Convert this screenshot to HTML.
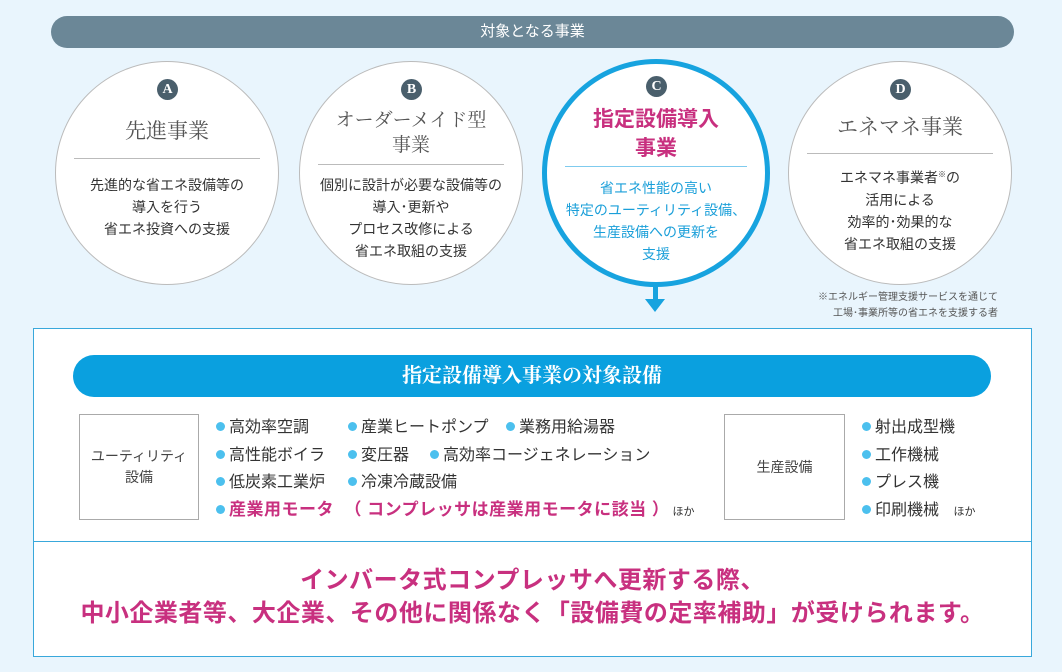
<!DOCTYPE html>
<html><head><meta charset="utf-8"><style>
*{margin:0;padding:0;box-sizing:border-box}
body{width:1062px;height:672px;background:#e9f5fd;position:relative;overflow:hidden;font-family:"Liberation Sans","Noto Sans CJK JP",sans-serif;color:#333}
.a{position:absolute}
.bar{left:51px;top:16px;width:963px;height:32px;border-radius:16px;background:#6b8797;color:#fff;font-size:15px;text-align:center;line-height:32px}
.c{width:224px;height:224px;border-radius:50%;background:#fff;border:1px solid #bbb;text-align:center}
.badge{position:absolute;left:50%;top:17px;margin-left:-10px;width:21px;height:21px;border-radius:50%;background:#4a5f6c;color:#fff;font-family:"Liberation Serif",serif;font-weight:bold;font-size:14px;line-height:21px}
.tt{position:absolute;left:0;right:0;font-family:"Liberation Serif","Noto Serif CJK SC",serif;font-size:21px;color:#555;line-height:27px}
.hr{position:absolute;left:18px;right:18px;height:1px;background:#bbb}
.bd{position:absolute;left:0;right:0;font-size:14px;line-height:22px;color:#333}
.dot{display:inline-block;width:9px;height:9px;border-radius:50%;background:#4cc0ee;margin-right:4px;vertical-align:1px}
.ln{position:absolute;font-size:16px;white-space:nowrap}
</style></head><body>
<div class="a bar">対象となる事業</div>

<div class="a c" style="left:55px;top:61px">
<div class="badge">A</div>
<div class="tt" style="top:56px">先進事業</div>
<div class="hr" style="top:96px"></div>
<div class="bd" style="top:112px">先進的な省エネ設備等の<br>導入を行う<br>省エネ投資への支援</div>
</div>

<div class="a c" style="left:299px;top:61px">
<div class="badge">B</div>
<div class="tt" style="top:46px;font-size:19px;line-height:25px">オーダーメイド型<br>事業</div>
<div class="hr" style="top:102px"></div>
<div class="bd" style="top:112px">個別に設計が必要な設備等の<br>導入･更新や<br>プロセス改修による<br>省エネ取組の支援</div>
</div>

<div class="a c" style="left:542px;top:59px;width:228px;height:228px;border:5px solid #17a3df">
<div class="badge" style="top:12px">C</div>
<div class="tt" style="top:41px;font-family:'Liberation Sans','Noto Sans CJK JP',sans-serif;font-weight:bold;color:#c8307f;font-size:21px;line-height:29px">指定設備導入<br>事業</div>
<div class="hr" style="top:102px;background:#7fcbee"></div>
<div class="bd" style="top:113px;color:#1a9fd9;line-height:22px">省エネ性能の高い<br>特定のユーティリティ設備、<br>生産設備への更新を<br>支援</div>
</div>
<div class="a" style="left:653px;top:286px;width:5px;height:14px;background:#17a3df"></div>
<div class="a" style="left:645px;top:299px;width:0;height:0;border-left:10px solid transparent;border-right:10px solid transparent;border-top:13px solid #17a3df"></div>

<div class="a c" style="left:788px;top:61px">
<div class="badge">D</div>
<div class="tt" style="top:52px">エネマネ事業</div>
<div class="hr" style="top:91px"></div>
<div class="bd" style="top:102px">エネマネ事業者<sup style="font-size:8px">※</sup>の<br>活用による<br>効率的･効果的な<br>省エネ取組の支援</div>
</div>
<div class="a" style="left:790px;top:290px;width:208px;font-size:10px;line-height:16px;text-align:right;color:#555">※エネルギー管理支援サービスを通じて<br>工場･事業所等の省エネを支援する者</div>

<div class="a" style="left:33px;top:328px;width:999px;height:329px;background:#fff;border:1px solid #39a8db"></div>
<div class="a" style="left:34px;top:541px;width:997px;height:1px;background:#39a8db"></div>
<div class="a" style="left:73px;top:355px;width:918px;height:42px;border-radius:21px;background:#0aa0df;color:#fff;text-align:center;line-height:42px;font-family:'Liberation Serif','Noto Serif CJK SC',serif;font-size:20px;font-weight:bold">指定設備導入事業の対象設備</div>

<div class="a" style="left:79px;top:414px;width:120px;height:106px;border:1px solid #aaa;font-size:14px;text-align:center;line-height:21px;padding-top:31px;color:#444">ユーティリティ<br>設備</div>
<div class="ln" style="left:216px;top:413px"><span class="dot"></span>高効率空調</div>
<div class="ln" style="left:348px;top:413px"><span class="dot"></span>産業ヒートポンプ</div>
<div class="ln" style="left:506px;top:413px"><span class="dot"></span>業務用給湯器</div>
<div class="ln" style="left:216px;top:441px"><span class="dot"></span>高性能ボイラ</div>
<div class="ln" style="left:348px;top:441px"><span class="dot"></span>変圧器</div>
<div class="ln" style="left:430px;top:441px"><span class="dot"></span>高効率コージェネレーション</div>
<div class="ln" style="left:216px;top:468px"><span class="dot"></span>低炭素工業炉</div>
<div class="ln" style="left:348px;top:468px"><span class="dot"></span>冷凍冷蔵設備</div>
<div class="ln" style="left:216px;top:495px;color:#c8307f;font-weight:bold;font-size:17px;letter-spacing:0.5px"><span class="dot"></span>産業用モータ &nbsp;（ コンプレッサは産業用モータに該当 ）<span style="font-weight:normal;color:#333;font-size:11px;letter-spacing:0"> ほか</span></div>

<div class="a" style="left:724px;top:414px;width:121px;height:106px;border:1px solid #aaa;font-size:14px;text-align:center;line-height:104px;color:#444">生産設備</div>
<div class="ln" style="left:862px;top:413px"><span class="dot"></span>射出成型機</div>
<div class="ln" style="left:862px;top:441px"><span class="dot"></span>工作機械</div>
<div class="ln" style="left:862px;top:468px"><span class="dot"></span>プレス機</div>
<div class="ln" style="left:862px;top:496px"><span class="dot"></span>印刷機械 <span style="font-size:11px;margin-left:10px">ほか</span></div>

<div class="a" style="left:34px;top:564px;width:997px;text-align:center;color:#c8307f;font-weight:bold;font-size:24px;line-height:33px;letter-spacing:0.5px">インバータ式コンプレッサへ更新する際、<br>中小企業者等、大企業、その他に関係なく「設備費の定率補助」が受けられます。</div>
</body></html>
